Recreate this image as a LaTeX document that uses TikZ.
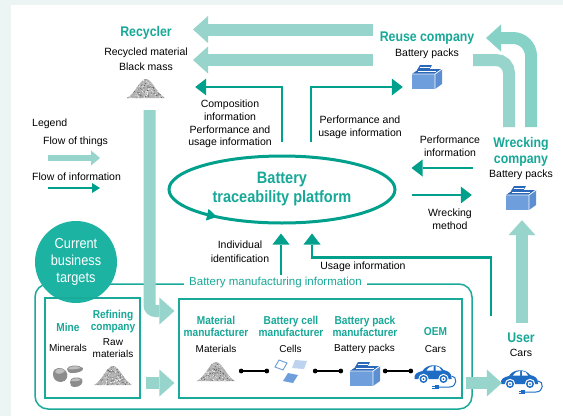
\documentclass[tikz,border=0pt]{standalone}
\usepackage{fontspec}
\setmainfont{Liberation Sans}
\newfontfamily\hdfont{Liberation Sans}[FakeStretch=0.88]
\usetikzlibrary{arrows.meta,calc,shapes.geometric}

\definecolor{bgc}{HTML}{EDF5F4}
\definecolor{thingc}{HTML}{97D4CB}
\definecolor{thingb}{HTML}{87D2C7}
\definecolor{infoc}{HTML}{00A08C}
\definecolor{headc}{HTML}{17A898}
\definecolor{circc}{HTML}{1DB3A3}
\definecolor{framec}{HTML}{1AAA9A}
\definecolor{batlight}{HTML}{6E9EDB}
\definecolor{batside}{HTML}{5C8ED2}
\definecolor{battop}{HTML}{2B68BA}
\definecolor{carblue}{HTML}{1F6CC4}

\tikzset{
  thing/.style={draw=thingc, line width=12pt, -{Triangle[length=15pt,width=27pt,line width=0pt]}},
  thingbar/.style={draw=thingc, line width=12pt},
  info/.style={draw=infoc, line width=2.4pt, -{Triangle[length=11pt,width=17pt,line width=0pt]}},
  hd/.style={text=headc, inner sep=0pt, align=center, font=\hdfont\bfseries\fontsize{14}{16}\selectfont},
  hdsmall/.style={text=headc, inner sep=0pt, align=center, font=\hdfont\bfseries\fontsize{11.5}{12}\selectfont},
  txt/.style={inner sep=0pt, align=center, font=\fontsize{10.5}{12.7}\selectfont},
  boxtxt/.style={inner sep=0pt, align=center, font=\fontsize{10}{12}\selectfont},
  icon/.style={inner sep=0pt, minimum width=#1},
  innerbox/.style={draw=framec, line width=1.2pt, inner sep=0pt},
  chainline/.style={line width=1.2pt},
  chaindot/.style={fill=black},
  % grainy heap of powder
  heap/.pic={
    \begin{scope}
      \clip (-19,9) .. controls (-11,5) and (-6,-10) .. (0,-10) .. controls (6,-10) and (11,5) .. (19,9) -- cycle;
      \fill[gray!60] (-20,-11) rectangle (20,10);
      \foreach \k in {1,...,120}{
        \pgfmathsetmacro\px{19*rand}\pgfmathsetmacro\py{-0.5+10*rand}
        \fill[black!65] (\px,\py) circle (0.5);
      }
      \foreach \k in {1,...,120}{
        \pgfmathsetmacro\px{19*rand}\pgfmathsetmacro\py{-0.5+10*rand}
        \fill[white] (\px,\py) circle (0.45);
      }
    \end{scope}
  },
  % three lumps of ore
  rocks/.pic={
    \fill[black!45] (-15,-2) .. controls (-15,-9) and (-6,-10) .. (-2,-5) .. controls (1,-1) and (-1,6) .. (-7,6) .. controls (-12,6) and (-15,3) .. cycle;
    \fill[black!25] (-13,-4) .. controls (-11,-9) and (-6,-8) .. (-3,-5) .. controls (-6,-2) and (-10,-1) .. cycle;
    \fill[black!45] (-1,-7) .. controls (0,-11) and (10,-12) .. (15,-8) .. controls (16,-5) and (10,-3) .. (5,-3) .. controls (1,-3) and (-1,-4) .. cycle;
    \fill[black!25] (0,-7) .. controls (2,-10) and (9,-11) .. (13,-8) .. controls (9,-7) and (4,-6) .. cycle;
    \fill[black!45] (2,6) .. controls (2,1) and (10,0) .. (14,3) .. controls (16,7) and (12,11) .. (7,11) .. controls (3,11) and (2,9) .. cycle;
    \fill[black!25] (3,5) .. controls (4,2) and (10,1) .. (13,4) .. controls (9,5) and (6,6) .. cycle;
  },
  % battery pack
  battery/.pic={
    \fill[batlight] (-15,-3) rectangle (8,12);
    \fill[batside] (8,-3) -- (15,-8) -- (15,7) -- (8,12) -- cycle;
    \fill[battop] (-15,-3) -- (-8,-8) -- (15,-8) -- (8,-3) -- cycle;
    \fill[battop] (-10,-7) -- (-7,-12) -- (5,-12) -- (2,-7) -- cycle;
    \draw[white, line width=0.8pt] (-15,-3) -- (8,-3) -- (15,-8) (8,-3) -- (8,12);
    \draw[white, line width=0.6pt] (-9,-5.5) -- (9,-5.5) (-7,-9.5) -- (3,-9.5);
  },
  % battery cells
  cells/.pic={
    \draw[batlight, line width=0.9pt, fill=white] (-16,-4) -- (-8,-1) -- (-4,-8) -- (-12,-11) -- cycle;
    \fill[batlight!45] (1,-3) -- (13,-2) -- (16,-10) -- (4,-11) -- cycle;
    \fill[batlight] (-8,10) -- (2,12) -- (7,4) -- (-3,2) -- cycle;
  },
  % electric car with charging cable
  evcar/.pic={
    \fill[carblue] (-19,3) .. controls (-20,-2) and (-16,-4) .. (-11,-5) .. controls (-7,-12) and (5,-13) .. (10,-6) .. controls (15,-5) and (18,-3) .. (18,2) -- (18,3) -- cycle;
    \fill[white] (-7,-5.5) .. controls (-5,-9) and (-2,-10) .. (0,-10) -- (0,-5.5) -- cycle;
    \fill[white] (2,-10) .. controls (5,-10) and (7,-8) .. (8,-5.5) -- (2,-5.5) -- cycle;
    \foreach \w in {-10,10}{
      \fill[white] (\w,3) circle (5.2);
      \fill[carblue] (\w,3) circle (4);
      \fill[white] (\w,3) circle (2.3);
      \fill[carblue] (\w,3) circle (1);
    }
    \draw[carblue, line width=1pt] (18,0) .. controls (24,0) and (24,11) .. (16,11) -- (5,11);
    \fill[carblue] (1,9) rectangle (5,13);
    \draw[carblue, line width=0.8pt] (1,10) -- (-1.5,10) (1,12) -- (-1.5,12);
  },
}

\begin{document}
\begin{tikzpicture}[x=1pt,y=-1pt]
\pgfmathsetseed{42}
\useasboundingbox (0,0) rectangle (563,416);
\fill[bgc] (0,0) rectangle (563,416);
\fill[white] (11,5) rectangle (563,416);

% ---------- manufacturing frame ----------
\draw[framec, line width=1.5pt, rounded corners=13pt] (35,284) rectangle (472,409);
\node[fill=white, inner xsep=5pt, inner ysep=1pt, text=headc, font=\fontsize{11.5}{13}\selectfont] (bmi) at (275.5,283) {Battery manufacturing information};
\node[circle, fill=circc, minimum size=82pt, inner sep=0pt, text=white, align=center, font=\hdfont\fontsize{14.5}{17}\selectfont] (cbt) at (76,262) {Current\\business\\targets};

\node[innerbox, minimum width=95pt, minimum height=100pt] (raw) at (92.5,348) {};
\node[innerbox, minimum width=283pt, minimum height=99pt] (mfg) at (320.5,348.5) {};

% raw materials
\node[hdsmall] (mine) at (68,327.5) {Mine};
\node[boxtxt] (minerals) at (68,348) {Minerals};
\node[hdsmall] (refin) at (113,322) {Refining\\company};
\node[boxtxt] (rawm) at (113,348) {Raw\\materials};
\node[icon=30pt, minimum height=22pt] (rockI) at (68,376) {};
\pic at (rockI) {rocks};
\node[icon=38pt, minimum height=22pt] (rawPile) at (113,376) {};
\pic at (rawPile) {heap};

% manufacturing chain
\node[hdsmall] (mmT) at (216,326) {Material\\manufacturer};
\node[hdsmall] (cmT) at (291,326) {Battery cell\\manufacturer};
\node[hdsmall] (pmT) at (365,326) {Battery pack\\manufacturer};
\node[hdsmall] (oemT) at (435.5,332) {OEM};
\node[boxtxt] (matS) at (216,349) {Materials};
\node[boxtxt] (cellS) at (290.5,349) {Cells};
\node[boxtxt] (packS) at (364.5,349) {Battery packs};
\node[boxtxt] (carS) at (435.5,349) {Cars};
\node[icon=38pt, minimum height=20pt] (matPile) at (216,372) {};
\pic at (matPile) {heap};
\node[icon=32pt, minimum height=22pt] (cellI) at (291,371) {};
\pic at (cellI) {cells};
\node[icon=30pt, minimum height=25pt] (packI) at (365,374) {};
\pic at (packI) {battery};
\node[icon=40pt, minimum height=24pt] (carO) at (435.5,376) {};
\pic at ($(carO)+(-2,0)$) {evcar};

% links of the chain, with a dot at each end
\coordinate (c1a) at ($(matPile.east)+(6,-1)$);
\coordinate (c1b) at ($(cellI.west)+(-8,0)$);
\coordinate (c2a) at ($(cellI.east)+(8,0)$);
\coordinate (c2b) at ($(packI.west)+(-9,-3)$);
\coordinate (c3a) at ($(packI.east)+(5,-3)$);
\coordinate (c3b) at ($(carO.west)+(-4.5,-5)$);
\foreach \a/\b in {c1a/c1b, c2a/c2b, c3a/c3b}{
  \draw[chainline] (\a) -- (\b);
  \fill[chaindot] (\a) circle (2.4);
  \fill[chaindot] (\b) circle (2.4);
}

% ---------- recycler ----------
\node[hd] (recT) at (146,33) {Recycler};
\node[txt, font=\fontsize{10.5}{15}\selectfont] (recS) at (146,59.5) {Recycled material\\Black mass};
\node[icon=38pt, minimum height=22pt] (recPile) at (146,89) {};
\pic at (recPile) {heap};

% ---------- reuse company ----------
\node[hd] (reuT) at (427,38) {Reuse company};
\node[txt] (reuS) at (427,54) {Battery packs};
\node[icon=30pt, minimum height=25pt] (reuBat) at (427,77) {};
\pic at (reuBat) {battery};

% ---------- wrecking company ----------
\node[hd] (wreT) at (521,152) {Wrecking\\company};
\node[txt] (wreS) at (521,175) {Battery packs};
\node[icon=30pt, minimum height=25pt] (wreBat) at (521,198) {};
\pic at (wreBat) {battery};

% ---------- user ----------
\node[hd] (userT) at (521,338) {User};
\node[txt] (userS) at (521,353) {Cars};
\node[icon=40pt, minimum height=24pt] (carU) at (522,381) {};
\pic at ($(carU)+(-2,0)$) {evcar};

% ---------- platform ----------
\node[ellipse, draw=infoc, line width=3pt, minimum width=226pt, minimum height=67pt, inner sep=0pt, text=headc, align=center, font=\hdfont\bfseries\fontsize{16.5}{19}\selectfont] (plat) at (282,189.5) {Battery\\traceability platform};
\draw[infoc, line width=0.1pt, -{Triangle[length=10pt,width=12pt,line width=0pt]}] ($(plat.center)+(-78,24.5)$) -- ($(plat.center)+(-65,27.4)$);

% ---------- legend ----------
\node[txt, anchor=west] (leg) at (32,124) {Legend};
\node[txt, anchor=west] (legT) at (43,142) {Flow of things};
\node[txt, anchor=west] (legI) at (32,177) {Flow of information};
\draw[thingc, line width=6.7pt, -{Triangle[length=9pt,width=15pt,line width=0pt]}] ($(legT.west)+(5,16)$) -- ++(52,0);
\draw[infoc, line width=2.4pt, -{Triangle[length=8pt,width=10pt,line width=0pt]}] ($(legI.west)+(16,11)$) -- ++(52,0);

% ---------- flow of things ----------
\coordinate (a1s) at (373,29.5);
\coordinate (a1e) at (193,29.5);
\coordinate (a2s) at (373,60);
\coordinate (a2e) at (193,60);
\coordinate (b1s) at (509,127);
\coordinate (b1e) at (473,60);
\coordinate (b2s) at (531,127);
\coordinate (b2e) at (486,38);
\draw[thing] (a1s) -- (a1e);
\draw[thing] (a2s) -- (a2e);
\draw[thingbar, rounded corners=13pt] (b1s) |- (b1e);
\draw[thing, draw=thingb, rounded corners=18pt] (b2s) |- (b2e);
\draw[thing, rounded corners=6pt] ($(recPile.south)+(3.5,10)$) |- ($(mfg.west)+(-4,-37.5)$);
\draw[thing] ($(raw.east)+(5,35)$) -- ($(mfg.west)+(-4,34.5)$);
\draw[thing] ($(mfg.east)+(3,34.5)$) -- ($(carU.west)+(0,2)$);
\draw[thing] ($(userT.north)+(1,-10)$) -- ($(wreBat.south)+(1,9.5)$);

% ---------- flow of information ----------
\draw[info] ($(plat.north)+(0,-13)$) |- ($(recPile.east)+(30,-2)$);
\draw[info] ($(plat.north)+(29,-13)$) |- ($(reuBat.west)+(-9,10)$);
\draw[info] ($(wreBat.west)+(-33,-30)$) -- ($(plat.east)+(15,-21.5)$);
\draw[info] ($(plat.east)+(15,5.5)$) -- ($(wreBat.west)+(-34,-3)$);
\draw[info] ($(plat.south)+(-1,50)$) -- ($(plat.south)+(-1,9)$);
\coordinate (u6) at (491,316);
\draw[info] (u6) |- ($(plat.south)+(30,33)$) -- ($(plat.south)+(30,9)$);

\node[txt] (compT) at (230,124) {Composition\\information\\Performance and\\usage information};
\node[txt] (perfT) at (360,127) {Performance and\\usage information};
\node[txt] (perfI) at (450,146.5) {Performance\\information};
\node[txt] (wrkM) at (450,219.5) {Wrecking\\method};
\node[txt, font=\fontsize{10.5}{13.5}\selectfont] (indI) at (240,251.5) {Individual\\identification};
\node[txt] (useI) at (363,267) {Usage information};
\end{tikzpicture}
\end{document}
